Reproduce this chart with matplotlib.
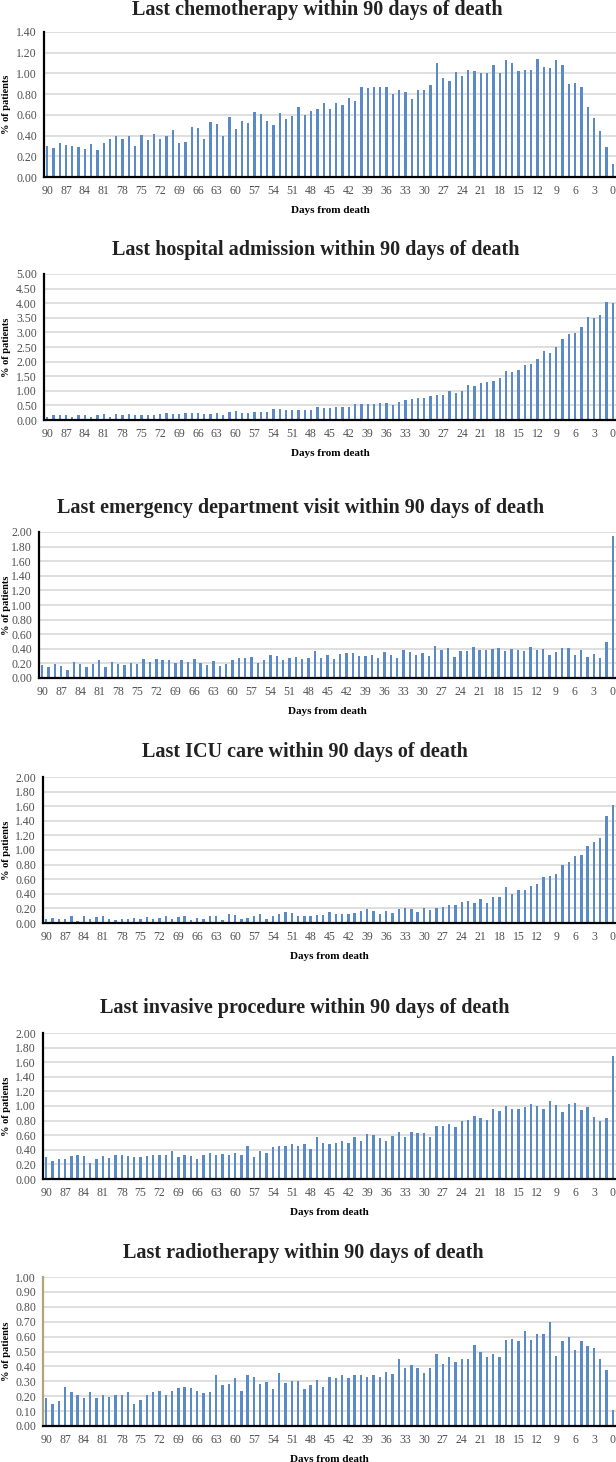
import matplotlib
matplotlib.use('Agg')
import matplotlib.pyplot as plt
import numpy as np

plt.rcParams['font.family'] = ['Liberation Serif', 'DejaVu Serif']

days = list(range(90, -1, -1))  # 90 ... 0

# % of patients, from day 90 down to day 0
chemo = [0.30, 0.28, 0.33, 0.31, 0.30, 0.29, 0.27, 0.32, 0.26, 0.33,
         0.37, 0.40, 0.37, 0.40, 0.30, 0.41, 0.36, 0.42, 0.37, 0.40,
         0.45, 0.33, 0.34, 0.48, 0.47, 0.37, 0.53, 0.51, 0.40, 0.58,
         0.46, 0.54, 0.52, 0.63, 0.61, 0.54, 0.50, 0.62, 0.56, 0.59,
         0.68, 0.60, 0.64, 0.66, 0.71, 0.66, 0.71, 0.70, 0.76, 0.73,
         0.87, 0.86, 0.87, 0.87, 0.87, 0.80, 0.84, 0.82, 0.75, 0.84,
         0.84, 0.89, 1.10, 0.96, 0.93, 1.01, 0.98, 1.03, 1.02, 1.00,
         1.00, 1.08, 1.00, 1.13, 1.10, 1.02, 1.03, 1.03, 1.14, 1.06,
         1.05, 1.13, 1.08, 0.90, 0.91, 0.87, 0.68, 0.57, 0.44, 0.29,
         0.13]

hospital = [0.11, 0.16, 0.16, 0.16, 0.10, 0.16, 0.16, 0.11, 0.17, 0.19,
            0.11, 0.19, 0.16, 0.19, 0.16, 0.16, 0.17, 0.18, 0.22, 0.23,
            0.21, 0.21, 0.25, 0.25, 0.23, 0.21, 0.21, 0.25, 0.18, 0.26,
            0.30, 0.23, 0.23, 0.26, 0.27, 0.27, 0.37, 0.37, 0.34, 0.34,
            0.33, 0.33, 0.33, 0.45, 0.42, 0.42, 0.45, 0.45, 0.45, 0.55,
            0.55, 0.55, 0.56, 0.57, 0.59, 0.52, 0.62, 0.67, 0.72, 0.75,
            0.75, 0.83, 0.86, 0.87, 0.99, 0.94, 1.00, 1.19, 1.16, 1.28,
            1.31, 1.35, 1.44, 1.68, 1.66, 1.71, 1.87, 1.93, 2.10, 2.37,
            2.29, 2.50, 2.76, 2.95, 2.99, 3.20, 3.53, 3.50, 3.60, 4.05,
            4.00]

emergency = [0.18, 0.155, 0.195, 0.165, 0.11, 0.22, 0.19, 0.155, 0.195, 0.24,
             0.145, 0.22, 0.195, 0.18, 0.20, 0.195, 0.265, 0.215, 0.255, 0.245,
             0.245, 0.20, 0.245, 0.215, 0.265, 0.21, 0.18, 0.23, 0.17, 0.19,
             0.245, 0.275, 0.275, 0.29, 0.20, 0.245, 0.32, 0.305, 0.24, 0.28,
             0.29, 0.265, 0.275, 0.375, 0.28, 0.31, 0.255, 0.325, 0.345, 0.34,
             0.30, 0.30, 0.32, 0.28, 0.355, 0.31, 0.28, 0.385, 0.355, 0.315,
             0.34, 0.305, 0.44, 0.385, 0.41, 0.29, 0.365, 0.365, 0.43, 0.385,
             0.39, 0.40, 0.41, 0.365, 0.40, 0.39, 0.375, 0.42, 0.385, 0.40,
             0.31, 0.355, 0.41, 0.41, 0.31, 0.385, 0.29, 0.33, 0.28, 0.50,
             1.94]

icu = [0.05, 0.07, 0.06, 0.06, 0.09, 0.03, 0.09, 0.06, 0.08, 0.10,
       0.06, 0.04, 0.05, 0.05, 0.07, 0.05, 0.08, 0.05, 0.07, 0.09,
       0.06, 0.08, 0.09, 0.04, 0.07, 0.05, 0.09, 0.09, 0.04, 0.13,
       0.11, 0.05, 0.07, 0.09, 0.12, 0.06, 0.10, 0.12, 0.15, 0.14,
       0.09, 0.10, 0.10, 0.11, 0.11, 0.15, 0.13, 0.13, 0.13, 0.14,
       0.16, 0.19, 0.16, 0.12, 0.17, 0.14, 0.19, 0.205, 0.19, 0.15,
       0.205, 0.18, 0.205, 0.215, 0.24, 0.24, 0.29, 0.30, 0.27, 0.33,
       0.28, 0.35, 0.35, 0.50, 0.40, 0.45, 0.45, 0.51, 0.53, 0.63,
       0.65, 0.67, 0.80, 0.83, 0.92, 0.93, 1.06, 1.11, 1.17, 1.47,
       1.61]

invasive = [0.305, 0.25, 0.28, 0.27, 0.315, 0.335, 0.315, 0.225, 0.28, 0.315,
            0.29, 0.335, 0.335, 0.315, 0.305, 0.305, 0.315, 0.335, 0.325, 0.335,
            0.39, 0.305, 0.335, 0.315, 0.27, 0.335, 0.35, 0.325, 0.34, 0.335,
            0.36, 0.325, 0.45, 0.305, 0.39, 0.35, 0.435, 0.45, 0.45, 0.48,
            0.45, 0.48, 0.415, 0.58, 0.50, 0.48, 0.49, 0.525, 0.49, 0.58,
            0.515, 0.61, 0.605, 0.56, 0.515, 0.59, 0.645, 0.57, 0.645, 0.635,
            0.635, 0.58, 0.725, 0.725, 0.76, 0.715, 0.80, 0.815, 0.86, 0.835,
            0.81, 0.965, 0.925, 1.00, 0.965, 0.955, 0.98, 1.03, 1.00, 0.955,
            1.07, 1.02, 0.92, 1.03, 1.045, 0.945, 0.99, 0.855, 0.80, 0.835,
            1.685]

radio = [0.185, 0.15, 0.17, 0.26, 0.225, 0.205, 0.19, 0.225, 0.19, 0.205,
         0.195, 0.205, 0.205, 0.225, 0.15, 0.175, 0.21, 0.23, 0.235, 0.205,
         0.235, 0.255, 0.26, 0.255, 0.235, 0.22, 0.23, 0.34, 0.275, 0.285,
         0.32, 0.235, 0.34, 0.33, 0.285, 0.295, 0.245, 0.355, 0.29, 0.30,
         0.305, 0.245, 0.275, 0.31, 0.26, 0.33, 0.32, 0.34, 0.32, 0.34,
         0.345, 0.33, 0.34, 0.33, 0.365, 0.35, 0.45, 0.39, 0.41, 0.39,
         0.355, 0.39, 0.485, 0.415, 0.465, 0.43, 0.45, 0.45, 0.545, 0.495,
         0.46, 0.485, 0.465, 0.575, 0.585, 0.57, 0.635, 0.575, 0.62, 0.615,
         0.70, 0.47, 0.57, 0.60, 0.51, 0.57, 0.535, 0.525, 0.45, 0.375,
         0.105]

titles = ['Last chemotherapy within 90 days of death',
          'Last hospital admission within 90 days of death',
          'Last emergency department visit within 90 days of death',
          'Last ICU care within 90 days of death',
          'Last invasive procedure within 90 days of death',
          'Last radiotherapy within 90 days of death']
series = [chemo, hospital, emergency, icu, invasive, radio]
ymax = [1.4, 5.0, 2.0, 2.0, 2.0, 1.0]
ystep = [0.2, 0.5, 0.2, 0.2, 0.2, 0.1]

# layout in pixels
W, H = 616, 1462
lefts = [44, 44, 39, 43, 43, 43]
tops = [32, 274, 532, 777, 1033, 1277]
bottoms = [177, 420, 678, 923, 1179, 1426]
title_y = [10, 250, 508, 752, 1008, 1253]
title_x = [317, 316, 301, 305, 305, 303]

fig = plt.figure(figsize=(W / 100, H / 100), dpi=100)
x = np.arange(len(days))

for k in range(6):
    l, t, b = lefts[k], tops[k], bottoms[k]
    ax = fig.add_axes([l / W, 1 - b / H, (W - l) / W, (b - t) / H])
    ax.bar(x, series[k], width=0.38, color='#5b8bc7')
    ax.set_xlim(-0.5, len(days) - 0.5)
    ax.set_ylim(0, ymax[k])
    ax.set_yticks(np.arange(0, ymax[k] + ystep[k] / 2, ystep[k]))
    ax.yaxis.set_major_formatter(matplotlib.ticker.FormatStrFormatter('%.2f'))
    ax.set_xticks(x[::3])
    ax.set_xticklabels([str(d) for d in days[::3]])
    ax.grid(axis='y', color='#d9d9d9', linewidth=1.2)
    ax.set_axisbelow(True)
    for s in ['top', 'right']:
        ax.spines[s].set_visible(False)
    ax.spines['bottom'].set_linewidth(1.6)
    ax.spines['left'].set_linewidth(1.6)
    if k == 5:
        ax.spines['left'].set_color('#b0a37e')
    ax.tick_params(axis='both', length=0, labelsize=8.5, labelcolor='#505050')
    ax.tick_params(axis='x', pad=6)
    ax.tick_params(axis='y', pad=5)
    ax.set_xlabel('Days from death', fontsize=8, fontweight='bold', labelpad=6)
    ax.set_ylabel('% of patients', fontsize=7.5, fontweight='bold')
    ax.yaxis.set_label_coords(-(l - 11) / (W - l), 0.5)
    fig.text(title_x[k] / W, 1 - title_y[k] / H, titles[k], fontsize=14.5,
             fontweight='bold', ha='center', va='center', color='#222222')

plt.savefig('out.png', dpi=100)
